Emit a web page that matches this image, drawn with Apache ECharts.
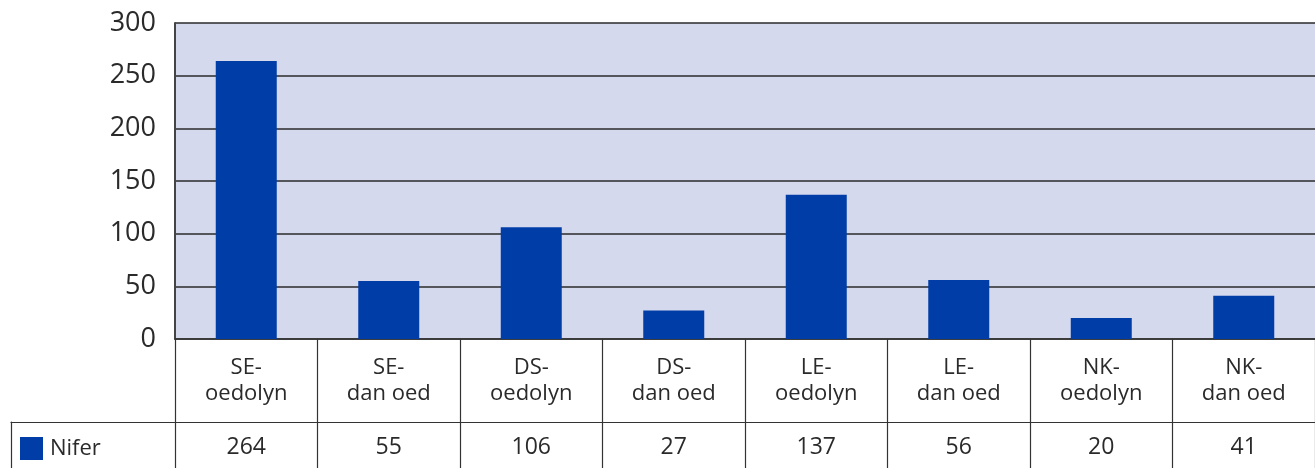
<!DOCTYPE html>
<html>
<head>
<meta charset="utf-8">
<title>Nifer</title>
<script src="https://cdn.jsdelivr.net/npm/echarts@6/dist/echarts.min.js"></script>
<style>
  html, body { margin: 0; padding: 0; background: #ffffff; }
  #chart { width: 1315px; height: 468px; }
</style>
</head>
<body>
<div id="chart"></div>
<script>
// Categories (two-line labels) and values per category
const categories = [
  'SE-\noedolyn', 'SE-\ndan oed',
  'DS-\noedolyn', 'DS-\ndan oed',
  'LE-\noedolyn', 'LE-\ndan oed',
  'NK-\noedolyn', 'NK-\ndan oed'
];
const seriesName = 'Nifer';
const niferValues = [264, 55, 106, 27, 137, 56, 20, 41];
const yTicks = { min: 0, max: 300, interval: 50 };

const FONT = '"Open Sans", "Noto Sans", sans-serif';
const TEXT = '#2a2a2a';
const LINE = '#333333';
const BAR = '#013da6';

const chart = echarts.init(document.getElementById('chart'), null, { renderer: 'canvas' });

const plotLeft = 175, plotWidth = 1149;

chart.setOption({
  animation: false,
  textStyle: { fontFamily: FONT },
  legend: {
    data: [seriesName],
    left: 20,
    top: 437,
    padding: 0,
    itemWidth: 23,
    itemHeight: 23,
    itemGap: 0,
    icon: 'rect',
    textStyle: { fontFamily: FONT, fontSize: 22, color: TEXT, padding: [0, 0, 0, 2] }
  },
  grid: [
    // chart area
    { left: plotLeft, width: plotWidth, top: 23, height: 316, show: true,
      backgroundColor: '#d5d9ee', borderWidth: 0, containLabel: false },
    // value row of the data table
    { left: plotLeft, width: plotWidth, top: 422, height: 50, show: false },
    // legend cell of the data table
    { left: 11, width: plotLeft - 11, top: 422, height: 50, show: false }
  ],
  xAxis: [
    {
      gridIndex: 0, type: 'category', data: categories, boundaryGap: true,
      axisLine: { show: true, lineStyle: { color: LINE, width: 1.5 } },
      axisTick: { show: true, alignWithLabel: false, length: 83, lineStyle: { color: LINE, width: 1.2 } },
      axisLabel: { margin: 16, fontFamily: FONT, fontSize: 22, lineHeight: 26, color: TEXT, interval: 0, align: 'center' }
    },
    {
      gridIndex: 1, type: 'category', data: categories, position: 'top', boundaryGap: true,
      axisLine: { show: true, onZero: false, lineStyle: { color: LINE, width: 1.2 } },
      axisTick: { show: true, inside: true, alignWithLabel: false, length: 50, lineStyle: { color: LINE, width: 1.2 } },
      axisLabel: {
        inside: true, margin: 12, interval: 0, fontFamily: FONT, fontSize: 23, lineHeight: 26, color: TEXT,
        formatter: (v, i) => String(niferValues[i])
      }
    },
    {
      gridIndex: 2, type: 'value', position: 'top', min: 0, max: 1,
      axisLine: { show: true, onZero: false, lineStyle: { color: LINE, width: 1.2 } },
      axisTick: { show: false }, axisLabel: { show: false }, splitLine: { show: false }
    }
  ],
  yAxis: [
    {
      gridIndex: 0, type: 'value', min: yTicks.min, max: yTicks.max, interval: yTicks.interval,
      axisLine: { show: true, lineStyle: { color: '#444', width: 2 } },
      axisTick: { show: false },
      axisLabel: { margin: 19, fontFamily: FONT, fontSize: 27, color: TEXT },
      splitLine: { show: true, lineStyle: { color: '#2a2a2a', width: 1.5 } }
    },
    {
      gridIndex: 1, type: 'value', min: 0, max: 1, show: false
    },
    {
      gridIndex: 2, type: 'value', min: 0, max: 1,
      axisLine: { show: true, onZero: false, lineStyle: { color: LINE, width: 1.2 } },
      axisTick: { show: false }, axisLabel: { show: false }, splitLine: { show: false }
    }
  ],
  series: [
    {
      name: seriesName, type: 'bar', xAxisIndex: 0, yAxisIndex: 0,
      data: niferValues, barWidth: 61,
      itemStyle: { color: BAR }
    }
  ]
});
</script>
</body>
</html>
